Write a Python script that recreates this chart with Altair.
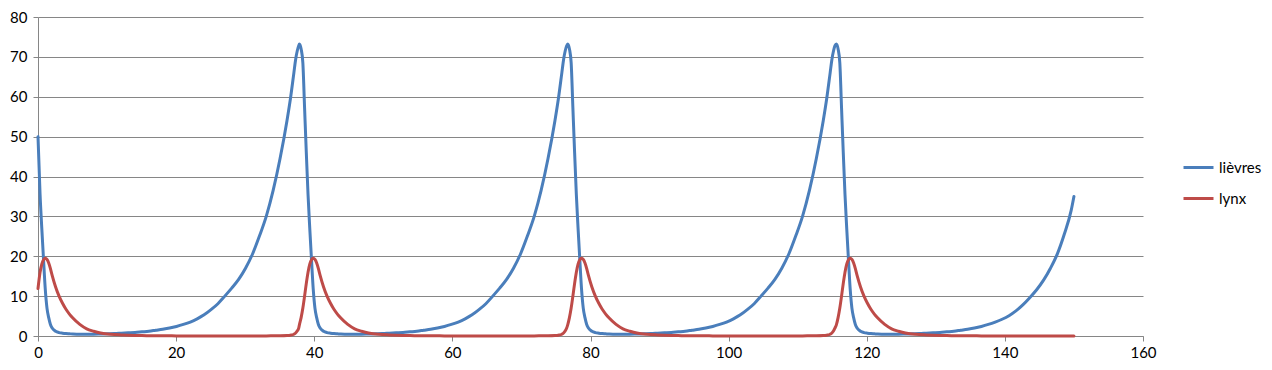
import altair as alt
import pandas as pd

# ---- data (time, hares "lièvres", lynx) ----
t_cycle1 = [0, 0.3, 0.55, 0.8, 1.05, 1.3, 1.55, 1.8, 2.05, 2.55, 3.05, 3.55, 4.05, 4.55, 5.05,
            6.05, 7.05, 8.05, 9.05, 10.05, 11.05, 12.05, 13.05, 14.05, 15.05, 16.05, 17.05, 18.05,
            19.05, 20.05, 21.05, 22.05, 23.05, 24.05, 25.05, 26.05, 27.05, 28.05, 29.05, 30.05,
            31.05, 32.05, 33.05, 34.05, 35.05, 36.05, 36.55, 37.05, 37.3, 37.55, 37.75]
lievres_cycle1 = [50.0, 35.5, 27.0, 19.2, 11.8, 7.0, 4.6, 2.9, 2.0, 1.2, 0.85, 0.7, 0.6, 0.55, 0.5,
                  0.45, 0.45, 0.45, 0.5, 0.55, 0.6, 0.7, 0.8, 0.9, 1.05, 1.2, 1.45, 1.7, 2.0, 2.4,
                  2.9, 3.5, 4.3, 5.3, 6.6, 8.1, 10.0, 12.0, 14.2, 17.0, 20.5, 25.0, 30.0, 36.5, 44.5,
                  54.0, 59.5, 66.0, 69.3, 71.6, 72.8]
lynx_cycle1 = [11.9, 16.0, 18.0, 19.1, 19.5, 19.2, 18.3, 16.9, 15.2, 12.3, 10.0, 8.2, 6.7, 5.5, 4.5,
               2.9, 1.8, 1.2, 0.75, 0.5, 0.35, 0.27, 0.2, 0.14, 0.1, 0.08, 0.06, 0.05, 0.04, 0.03,
               0.03, 0.03, 0.03, 0.03, 0.03, 0.03, 0.03, 0.03, 0.03, 0.03, 0.03, 0.03, 0.03, 0.04,
               0.05, 0.1, 0.2, 0.45, 0.75, 1.3, 2.0]

t_cycle2 = [37.85, 38.1, 38.35, 38.6, 38.85, 39.1, 39.35, 39.6, 39.85, 40.1, 40.35, 40.6, 40.85,
            41.35, 41.85, 42.35, 42.85, 43.35, 43.85, 44.85, 45.85, 46.85, 47.85, 48.85, 49.85,
            50.85, 51.85, 52.85, 53.85, 54.85, 55.85, 56.85, 57.85, 58.85, 59.85, 60.85, 61.85,
            62.85, 63.85, 64.85, 65.85, 66.85, 67.85, 68.85, 69.85, 70.85, 71.85, 72.85, 73.85,
            74.85, 75.35, 75.85, 76.1, 76.35, 76.55]
lievres_cycle2 = [73.2, 72.0, 68.5, 57.2, 46.0, 35.5, 27.0, 19.2, 11.8, 7.0, 4.6, 2.9, 2.0, 1.2,
                  0.85, 0.7, 0.6, 0.55, 0.5, 0.45, 0.45, 0.45, 0.5, 0.55, 0.6, 0.7, 0.8, 0.9, 1.05,
                  1.2, 1.45, 1.7, 2.0, 2.4, 2.9, 3.5, 4.3, 5.3, 6.6, 8.1, 10.0, 12.0, 14.2, 17.0,
                  20.5, 25.0, 30.0, 36.5, 44.5, 54.0, 59.5, 66.0, 69.3, 71.6, 72.8]
lynx_cycle2 = [2.8, 4.6, 7.0, 10.0, 13.2, 16.0, 18.0, 19.1, 19.5, 19.2, 18.3, 16.9, 15.2, 12.3,
               10.0, 8.2, 6.7, 5.5, 4.5, 2.9, 1.8, 1.2, 0.75, 0.5, 0.35, 0.27, 0.2, 0.14, 0.1, 0.08,
               0.06, 0.05, 0.04, 0.03, 0.03, 0.03, 0.03, 0.03, 0.03, 0.03, 0.03, 0.03, 0.03, 0.03,
               0.03, 0.03, 0.03, 0.04, 0.05, 0.1, 0.2, 0.45, 0.75, 1.3, 2.0]

t_cycle3 = [76.7, 76.95, 77.2, 77.45, 77.7, 77.95, 78.2, 78.45, 78.7, 78.95, 79.2, 79.45, 79.7,
            80.2, 80.7, 81.2, 81.7, 82.2, 82.7, 83.7, 84.7, 85.7, 86.7, 87.7, 88.7, 89.7, 90.7,
            91.7, 92.7, 93.7, 94.7, 95.7, 96.7, 97.7, 98.7, 99.7, 100.7, 101.7, 102.7, 103.7,
            104.7, 105.7, 106.7, 107.7, 108.7, 109.7, 110.7, 111.7, 112.7, 113.7, 114.2, 114.7,
            114.95, 115.2, 115.4]
lievres_cycle3 = [73.2, 72.0, 68.5, 57.2, 46.0, 35.5, 27.0, 19.2, 11.8, 7.0, 4.6, 2.9, 2.0, 1.2,
                  0.85, 0.7, 0.6, 0.55, 0.5, 0.45, 0.45, 0.45, 0.5, 0.55, 0.6, 0.7, 0.8, 0.9, 1.05,
                  1.2, 1.45, 1.7, 2.0, 2.4, 2.9, 3.5, 4.3, 5.3, 6.6, 8.1, 10.0, 12.0, 14.2, 17.0,
                  20.5, 25.0, 30.0, 36.5, 44.5, 54.0, 59.5, 66.0, 69.3, 71.6, 72.8]
lynx_cycle3 = [2.8, 4.6, 7.0, 10.0, 13.2, 16.0, 18.0, 19.1, 19.5, 19.2, 18.3, 16.9, 15.2, 12.3,
               10.0, 8.2, 6.7, 5.5, 4.5, 2.9, 1.8, 1.2, 0.75, 0.5, 0.35, 0.27, 0.2, 0.14, 0.1, 0.08,
               0.06, 0.05, 0.04, 0.03, 0.03, 0.03, 0.03, 0.03, 0.03, 0.03, 0.03, 0.03, 0.03, 0.03,
               0.03, 0.03, 0.03, 0.04, 0.05, 0.1, 0.2, 0.45, 0.75, 1.3, 2.0]

t_cycle4 = [115.6, 115.85, 116.1, 116.35, 116.6, 116.85, 117.1, 117.35, 117.6, 117.85, 118.1,
            118.35, 118.6, 119.1, 119.6, 120.1, 120.6, 121.1, 121.6, 122.6, 123.6, 124.6, 125.6,
            126.6, 127.6, 128.6, 129.6, 130.6, 131.6, 132.6, 133.6, 134.6, 135.6, 136.6, 137.6,
            138.6, 139.6, 140.6, 141.6, 142.6, 143.6, 144.6, 145.6, 146.6, 147.6, 148.6, 149.6,
            150.0]
lievres_cycle4 = [73.2, 72.0, 68.5, 57.2, 46.0, 35.5, 27.0, 19.2, 11.8, 7.0, 4.6, 2.9, 2.0, 1.2,
                  0.85, 0.7, 0.6, 0.55, 0.5, 0.45, 0.45, 0.45, 0.5, 0.55, 0.6, 0.7, 0.8, 0.9, 1.05,
                  1.2, 1.45, 1.7, 2.0, 2.4, 2.9, 3.5, 4.2, 5.1, 6.3, 7.8, 9.6, 11.6, 14.0, 17.0,
                  20.6, 25.5, 31.5, 35.0]
lynx_cycle4 = [2.8, 4.6, 7.0, 10.0, 13.2, 16.0, 18.0, 19.1, 19.5, 19.2, 18.3, 16.9, 15.2, 12.3,
               10.0, 8.2, 6.7, 5.5, 4.5, 2.9, 1.8, 1.2, 0.75, 0.5, 0.35, 0.27, 0.2, 0.14, 0.1, 0.08,
               0.06, 0.05, 0.04, 0.03, 0.03, 0.03, 0.03, 0.03, 0.03, 0.03, 0.03, 0.03, 0.03, 0.03,
               0.03, 0.03, 0.03, 0.03]

series_names = ["lièvres", "lynx"]
series_colors = ["#4A7EBB", "#BE4B48"]
x_ticks = [0, 20, 40, 60, 80, 100, 120, 140, 160]
y_ticks = [0, 10, 20, 30, 40, 50, 60, 70, 80]

rows = []
for ts, hs, ls in [(t_cycle1, lievres_cycle1, lynx_cycle1),
                   (t_cycle2, lievres_cycle2, lynx_cycle2),
                   (t_cycle3, lievres_cycle3, lynx_cycle3),
                   (t_cycle4, lievres_cycle4, lynx_cycle4)]:
    for t, h, l in zip(ts, hs, ls):
        rows.append({"t": t, "v": h, "s": series_names[0]})
        rows.append({"t": t, "v": l, "s": series_names[1]})
df = pd.DataFrame(rows)

FONT = "Lato"
GRAY = "#868686"

chart = alt.Chart(df).mark_line(
    strokeWidth=3, interpolate="monotone", strokeCap="round", strokeJoin="round"
).encode(
    x=alt.X("t:Q",
            scale=alt.Scale(domain=[0, 160], nice=False, zero=False),
            axis=alt.Axis(values=x_ticks, title=None, grid=False, domain=True,
                          domainColor=GRAY, ticks=True, tickColor=GRAY, tickSize=5,
                          labelFont=FONT, labelFontSize=15, labelColor="#000000",
                          labelPadding=4, labelFlush=False, labelOverlap=False)),
    y=alt.Y("v:Q",
            scale=alt.Scale(domain=[0, 80], nice=False),
            axis=alt.Axis(values=y_ticks, title=None, grid=True, gridColor=GRAY,
                          gridWidth=1, domain=True, domainColor=GRAY, ticks=True,
                          tickColor=GRAY, tickSize=5, labelFont=FONT, labelFontSize=15,
                          labelColor="#000000", labelPadding=6, labelFlush=False)),
    color=alt.Color("s:N",
                    scale=alt.Scale(domain=series_names, range=series_colors),
                    legend=alt.Legend(title=None, orient="none", legendX=1144, legendY=134,
                                      symbolType="stroke", symbolSize=900,
                                      symbolStrokeWidth=3, labelFont=FONT,
                                      labelFontSize=15, labelColor="#000000",
                                      rowPadding=6, padding=0, labelOffset=4)),
).properties(
    width=1105,
    height=319,
    autosize=alt.AutoSizeParams(type="none"),
    padding={"left": 30, "top": 9, "right": 121, "bottom": 26},
).configure_view(stroke=None)

chart.save("out.html", embed_options={"renderer": "svg", "actions": False})
